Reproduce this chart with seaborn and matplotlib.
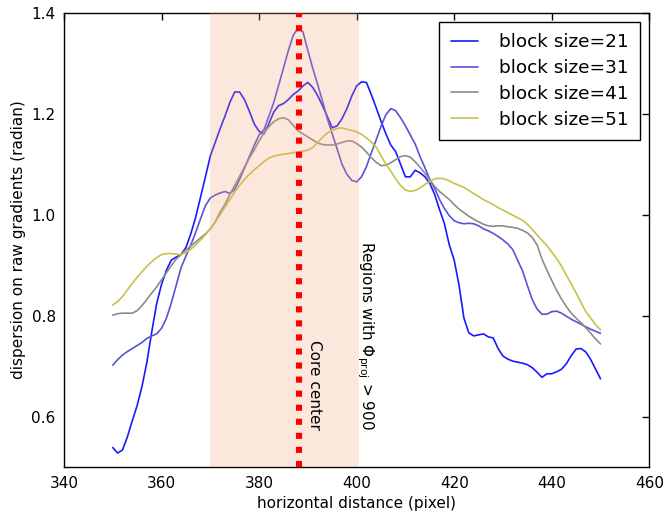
import matplotlib
matplotlib.use("Agg")
import matplotlib.pyplot as plt
import numpy as np
import pandas as pd
import seaborn as sns

# ---------------- data ----------------
x_pixel = list(range(350, 451))

disp_21 = [0.539, 0.528, 0.534, 0.560, 0.592, 0.622, 0.660, 0.708, 0.768, 0.824,
           0.862, 0.890, 0.910, 0.916, 0.921, 0.935, 0.962, 0.995, 1.035, 1.075,
           1.116, 1.143, 1.170, 1.195, 1.222, 1.243, 1.243, 1.228, 1.205, 1.180,
           1.165, 1.160, 1.180, 1.203, 1.216, 1.220, 1.228, 1.238, 1.245, 1.255,
           1.262, 1.252, 1.236, 1.216, 1.194, 1.172, 1.176, 1.190, 1.210, 1.235,
           1.255, 1.263, 1.262, 1.238, 1.212, 1.185, 1.160, 1.138, 1.125, 1.100,
           1.075, 1.075, 1.088, 1.083, 1.075, 1.062, 1.040, 1.010, 0.982, 0.940,
           0.910, 0.860, 0.795, 0.766, 0.760, 0.762, 0.764, 0.758, 0.756, 0.735,
           0.720, 0.714, 0.710, 0.708, 0.706, 0.703, 0.697, 0.688, 0.678, 0.685,
           0.685, 0.689, 0.694, 0.705, 0.721, 0.734, 0.735, 0.728, 0.713, 0.694,
           0.675]

disp_31 = [0.702, 0.713, 0.722, 0.729, 0.735, 0.741, 0.747, 0.755, 0.760, 0.764,
           0.775, 0.795, 0.825, 0.860, 0.895, 0.918, 0.940, 0.965, 0.992, 1.018,
           1.033, 1.039, 1.043, 1.046, 1.042, 1.050, 1.070, 1.092, 1.115, 1.137,
           1.158, 1.168, 1.195, 1.222, 1.256, 1.290, 1.325, 1.355, 1.370, 1.362,
           1.325, 1.290, 1.258, 1.225, 1.190, 1.160, 1.130, 1.100, 1.080, 1.068,
           1.065, 1.075, 1.095, 1.122, 1.148, 1.175, 1.198, 1.210, 1.206, 1.192,
           1.176, 1.158, 1.140, 1.115, 1.093, 1.070, 1.052, 1.030, 1.012, 0.998,
           0.988, 0.984, 0.982, 0.983, 0.982, 0.978, 0.972, 0.968, 0.963, 0.957,
           0.950, 0.942, 0.931, 0.910, 0.889, 0.860, 0.832, 0.813, 0.803, 0.803,
           0.808, 0.809, 0.805, 0.799, 0.793, 0.788, 0.783, 0.778, 0.773, 0.769,
           0.765]

disp_41 = [0.801, 0.804, 0.805, 0.805, 0.805, 0.810, 0.820, 0.832, 0.845, 0.857,
           0.871, 0.885, 0.899, 0.912, 0.921, 0.930, 0.938, 0.946, 0.954, 0.962,
           0.972, 0.986, 1.005, 1.020, 1.040, 1.058, 1.076, 1.094, 1.112, 1.128,
           1.146, 1.162, 1.174, 1.184, 1.190, 1.192, 1.188, 1.177, 1.166, 1.160,
           1.154, 1.148, 1.142, 1.139, 1.138, 1.138, 1.140, 1.143, 1.146, 1.146,
           1.141, 1.134, 1.124, 1.113, 1.104, 1.097, 1.098, 1.103, 1.109, 1.115,
           1.117, 1.114, 1.105, 1.094, 1.082, 1.069, 1.056, 1.046, 1.038, 1.030,
           1.020, 1.011, 1.004, 0.997, 0.991, 0.986, 0.981, 0.978, 0.977, 0.978,
           0.978, 0.976, 0.975, 0.973, 0.969, 0.964, 0.955, 0.940, 0.912, 0.890,
           0.870, 0.850, 0.833, 0.818, 0.805, 0.795, 0.786, 0.776, 0.765, 0.754,
           0.744]

disp_51 = [0.821, 0.828, 0.838, 0.851, 0.864, 0.876, 0.887, 0.898, 0.907, 0.915,
           0.921, 0.923, 0.923, 0.922, 0.921, 0.925, 0.932, 0.940, 0.950, 0.960,
           0.972, 0.985, 1.000, 1.015, 1.030, 1.045, 1.058, 1.070, 1.080, 1.089,
           1.097, 1.105, 1.112, 1.116, 1.118, 1.120, 1.121, 1.123, 1.124, 1.126,
           1.128, 1.133, 1.143, 1.153, 1.162, 1.167, 1.171, 1.172, 1.169, 1.167,
           1.164, 1.159, 1.152, 1.144, 1.134, 1.117, 1.100, 1.086, 1.071, 1.058,
           1.049, 1.046, 1.048, 1.053, 1.060, 1.066, 1.071, 1.072, 1.071, 1.067,
           1.062, 1.058, 1.054, 1.048, 1.042, 1.036, 1.030, 1.025, 1.020, 1.014,
           1.009, 1.004, 0.999, 0.994, 0.989, 0.981, 0.971, 0.960, 0.949, 0.939,
           0.926, 0.913, 0.898, 0.880, 0.863, 0.845, 0.826, 0.808, 0.795, 0.782,
           0.772]

series_labels = ["block size=21", "block size=31", "block size=41", "block size=51"]
series_values = [disp_21, disp_31, disp_41, disp_51]
series_colors = ["#1a1aff", "#5555d6", "#8c8c8c", "#c8c24a"]

core_center = 388.2
region_start, region_end = 370.0, 400.5
x_ticks = [340, 360, 380, 400, 420, 440, 460]
y_ticks = [0.6, 0.8, 1.0, 1.2, 1.4]

# ---------------- build frame ----------------
frames = []
for lab, vals in zip(series_labels, series_values):
    frames.append(pd.DataFrame({"x": x_pixel, "y": vals, "block": lab}))
df = pd.concat(frames, ignore_index=True)

sns.set_theme(style="white")
plt.rcParams["font.family"] = ["DejaVu Sans"]
plt.rcParams["text.color"] = "black"
plt.rcParams["axes.labelcolor"] = "black"
plt.rcParams["xtick.color"] = "black"
plt.rcParams["ytick.color"] = "black"
plt.rcParams["xtick.direction"] = "in"
plt.rcParams["ytick.direction"] = "in"

fig = plt.figure(figsize=(6.65, 5.12), dpi=100)
ax = fig.add_axes([0.0962, 0.0875, 0.8802, 0.8877])

sns.lineplot(data=df, x="x", y="y", hue="block", palette=series_colors,
             hue_order=series_labels, estimator=None, sort=False,
             linewidth=1.2, ax=ax, zorder=2)

ax.axvspan(region_start, region_end, color="#f4a27a", alpha=0.25, lw=0, zorder=3)
ax.axvline(core_center, color="red", lw=4.4, linestyle=(0, (1, 1.3)), zorder=4)

ax.text(391.4, 0.752, "Core center", rotation=-90, ha="center", va="top",
        fontsize=11, color="black", zorder=5)
ax.text(401.7, 0.948, r"Regions with $\Phi_{\rm proj}$ > 900", rotation=-90,
        ha="center", va="top", fontsize=11, color="black", zorder=5)

ax.set_xlim(340, 460)
ax.set_ylim(0.5, 1.4)
ax.set_xticks(x_ticks)
ax.set_yticks(y_ticks)
ax.tick_params(axis="both", which="major", labelsize=11, length=5, width=1,
               direction="in", top=True, right=True, color="black",
               labelcolor="black", pad=6)
for s in ax.spines.values():
    s.set_color("black")
    s.set_linewidth(1.0)
    s.set_visible(True)

ax.set_xlabel("horizontal distance (pixel)", fontsize=11, color="black")
ax.set_ylabel("dispersion on raw gradients (radian)", fontsize=11, color="black")

handles, labels = ax.get_legend_handles_labels()
if ax.get_legend() is not None:
    ax.get_legend().remove()
leg = ax.legend(handles, labels, loc="upper right", fontsize=13.3,
                frameon=True, fancybox=False, framealpha=1, edgecolor="black",
                handlelength=1.45, handletextpad=1.15, labelspacing=0.42,
                borderaxespad=0.5, borderpad=0.62)
leg.get_frame().set_linewidth(1.0)
for t in leg.get_texts():
    t.set_color("black")
for h in leg.get_lines():
    h.set_linewidth(1.2)

fig.savefig("out.png", dpi=100)
